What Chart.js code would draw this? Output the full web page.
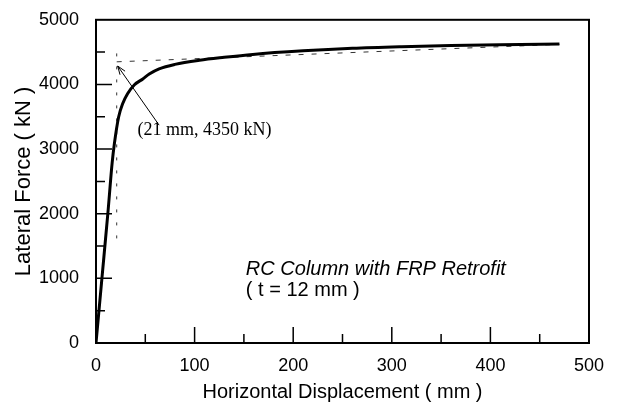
<!DOCTYPE html>
<html>
<head>
<meta charset="utf-8">
<script src="https://cdn.jsdelivr.net/npm/chart.js@4"></script>
<style>
  html, body { margin: 0; padding: 0; background: #fff; }
  canvas { display: block; }
</style>
</head>
<body>
<canvas id="pushover" width="621" height="405"></canvas>
<script>
// pushover curve (mm, kN)
const displacement = [0, 6, 12, 16.4, 18.7, 23, 27, 32, 39, 47.5, 54, 64, 80, 105, 130, 159, 210, 260, 310, 360, 410, 470];
const lateralForce = [0, 1000, 2000, 2790, 3090, 3500, 3700, 3855, 3995, 4085, 4160, 4240, 4310, 4375, 4420, 4465, 4520, 4560, 4585, 4603, 4615, 4625];

// bilinear idealisation
const bilinearDisp = [21, 470];
const bilinearForce = [4350, 4620];

// yield marker
const yieldDisp = [21, 21];
const yieldForce = [4480, 1600];

const xTicks = [0, 100, 200, 300, 400, 500];
const yTicks = [0, 1000, 2000, 3000, 4000, 5000];

function toPoints(xs, ys) {
    return xs.map(function(x, i) { return { x: x, y: ys[i] }; });
}

const frameAndNotes = {
    id: 'frameAndNotes',
    afterDraw: function(chart) {
        var ctx = chart.ctx;
        var area = chart.chartArea;
        var xs = chart.scales.x;
        var ys = chart.scales.y;

        ctx.save();
        ctx.strokeStyle = '#000';
        ctx.lineWidth = 2;
        ctx.strokeRect(area.left, area.top, area.right - area.left, area.bottom - area.top);

        // inward ticks on bottom and left
        ctx.lineWidth = 1.5;
        ctx.beginPath();
        for (var v = 50; v < 500; v += 50) {
            var px = xs.getPixelForValue(v);
            var len = v % 100 === 0 ? 16 : 9;
            ctx.moveTo(px, area.bottom);
            ctx.lineTo(px, area.bottom - len);
        }
        for (var f = 500; f < 5000; f += 500) {
            var py = ys.getPixelForValue(f);
            var len2 = f % 1000 === 0 ? 16 : 9;
            ctx.moveTo(area.left, py);
            ctx.lineTo(area.left + len2, py);
        }
        ctx.stroke();

        // arrow to the yield point
        var hx = xs.getPixelForValue(22), hy = ys.getPixelForValue(4285);
        var tx = xs.getPixelForValue(64), ty = ys.getPixelForValue(3370);
        ctx.lineWidth = 1;
        ctx.beginPath();
        ctx.moveTo(tx, ty);
        ctx.lineTo(hx, hy);
        ctx.stroke();
        var ang = Math.atan2(hy - ty, hx - tx);
        ctx.beginPath();
        ctx.moveTo(hx, hy);
        ctx.lineTo(hx - 9 * Math.cos(ang - 0.35), hy - 9 * Math.sin(ang - 0.35));
        ctx.moveTo(hx, hy);
        ctx.lineTo(hx - 9 * Math.cos(ang + 0.35), hy - 9 * Math.sin(ang + 0.35));
        ctx.stroke();

        ctx.fillStyle = '#000';
        ctx.textBaseline = 'middle';
        ctx.textAlign = 'left';

        ctx.font = '18px "Liberation Serif", "Times New Roman", serif';
        ctx.fillText('(21 mm, 4350 kN)', xs.getPixelForValue(42), ys.getPixelForValue(3290));

        ctx.font = 'italic 20px "Liberation Sans", Arial, sans-serif';
        ctx.fillText('RC Column with FRP Retrofit', xs.getPixelForValue(152), ys.getPixelForValue(1143));
        ctx.font = '20px "Liberation Sans", Arial, sans-serif';
        ctx.fillText('( t = 12 mm )', xs.getPixelForValue(152), ys.getPixelForValue(808));
        ctx.restore();
    }
};

document.addEventListener("DOMContentLoaded", function() {
    var canvas = document.getElementById("pushover");

    var data = {
        datasets: [{
            label: 'Pushover',
            data: toPoints(displacement, lateralForce),
            borderColor: '#000',
            borderWidth: 3,
            pointRadius: 0,
            showLine: true,
            cubicInterpolationMode: 'monotone'
        }, {
            label: 'Bilinear',
            data: toPoints(bilinearDisp, bilinearForce),
            borderColor: '#333',
            borderWidth: 1,
            borderDash: [5, 8],
            pointRadius: 0,
            showLine: true
        }, {
            label: 'Yield',
            data: toPoints(yieldDisp, yieldForce),
            borderColor: '#333',
            borderWidth: 1,
            borderDash: [3, 10],
            pointRadius: 0,
            showLine: true
        }]
    };

    var tickFont = { family: '"Liberation Sans", Arial, sans-serif', size: 18 };
    var plain = function(value) { return String(value); };

    var options = {
        responsive: false,
        animation: false,
        layout: { padding: { top: 15, right: 32, bottom: 0, left: 0 } },
        plugins: {
            legend: { display: false },
            tooltip: { enabled: false }
        },
        scales: {
            x: {
                type: 'linear',
                min: 0,
                max: 500,
                afterBuildTicks: function(s) { s.ticks = xTicks.map(function(v) { return { value: v }; }); },
                afterFit: function(s) { s.height = 62; },
                grid: { display: false },
                border: { display: false },
                ticks: { color: '#000', font: tickFont, padding: 4, maxRotation: 0, callback: plain },
                title: {
                    display: true,
                    text: 'Horizontal Displacement ( mm )',
                    color: '#000',
                    font: { family: '"Liberation Sans", Arial, sans-serif', size: 20 },
                    padding: { top: 0, bottom: 1 }
                }
            },
            y: {
                type: 'linear',
                min: 0,
                max: 5000,
                afterBuildTicks: function(s) { s.ticks = yTicks.map(function(v) { return { value: v }; }); },
                afterFit: function(s) { s.width = 96; },
                grid: { display: false },
                border: { display: false },
                ticks: { color: '#000', font: tickFont, padding: 9, callback: plain },
                title: {
                    display: true,
                    text: 'Lateral Force ( kN )',
                    color: '#000',
                    font: { family: '"Liberation Sans", Arial, sans-serif', size: 22 },
                    padding: { top: 11, bottom: 0 }
                }
            }
        }
    };

    new Chart(canvas, {
        type: 'scatter',
        data: data,
        options: options,
        plugins: [frameAndNotes]
    });
});
</script>
</body>
</html>
